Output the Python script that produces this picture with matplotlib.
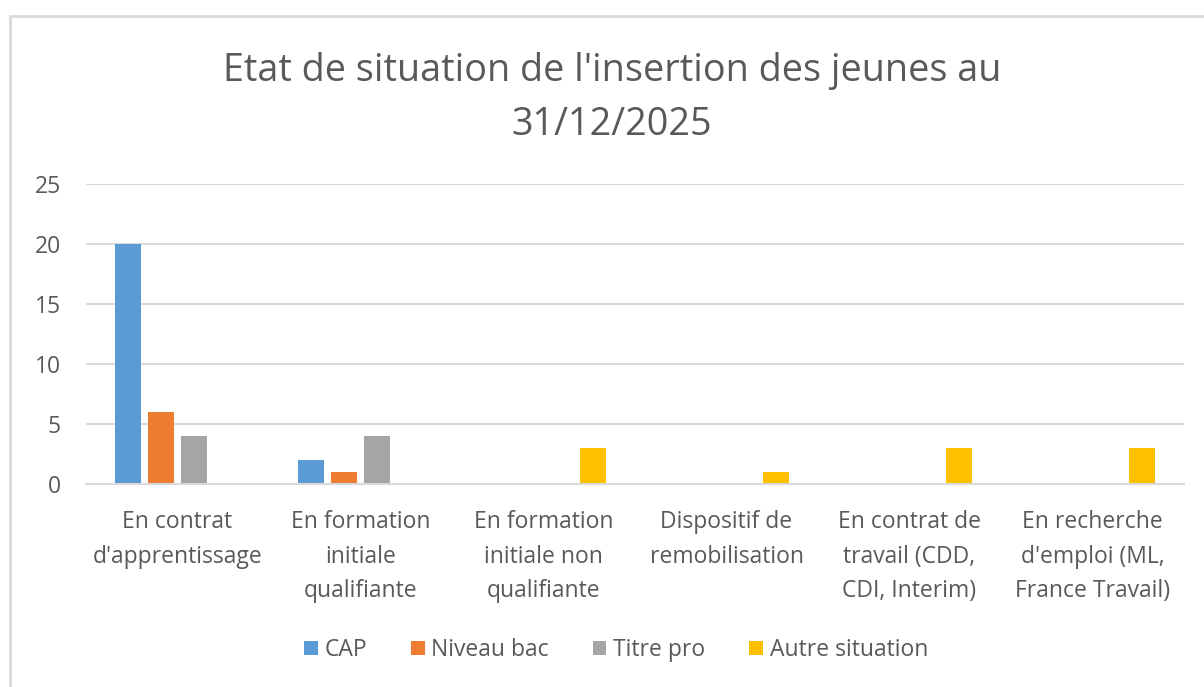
import matplotlib
matplotlib.use("Agg")
import matplotlib.pyplot as plt
import numpy as np
from matplotlib.patches import Rectangle

categories = [
    "En contrat\nd'apprentissage",
    "En formation\ninitiale\nqualifiante",
    "En formation\ninitiale non\nqualifiante",
    "Dispositif de\nremobilisation",
    "En contrat de\ntravail (CDD,\nCDI, Interim)",
    "En recherche\nd'emploi (ML,\nFrance Travail)",
]
series_names = ["CAP", "Niveau bac", "Titre pro", "Autre situation"]
cap = [20, 2, 0, 0, 0, 0]
niveau_bac = [6, 1, 0, 0, 0, 0]
titre_pro = [4, 4, 0, 0, 0, 0]
autre = [0, 0, 3, 1, 3, 3]
colors = ["#5B9BD5", "#ED7D31", "#A5A5A5", "#FFC000"]
yticks = [0, 5, 10, 15, 20, 25]

plt.rcParams['font.family'] = ['Open Sans', 'DejaVu Sans']
W, H = 1204, 687
fig = plt.figure(figsize=(W / 100, H / 100), dpi=100)

# chart border
fig.patches.append(Rectangle((10 / W, -0.05), 1.2, 1 - 16 / H + 0.05,
                             transform=fig.transFigure, fill=False,
                             edgecolor="#D9D9D9", linewidth=2))

ax = fig.add_axes([86 / W, 1 - 484 / H, (1184 - 86) / W, (484 - 184) / H])
x = np.arange(len(categories))
spacing = 0.18
width = 0.142
data = [cap, niveau_bac, titre_pro, autre]
for i, (vals, name, c) in enumerate(zip(data, series_names, colors)):
    ax.bar(x + (i - 1.5) * spacing, vals, width, color=c, label=name, zorder=3)

ax.set_xlim(-0.5, len(categories) - 0.5)
ax.set_ylim(0, 25)
ax.set_yticks(yticks)
ax.yaxis.grid(True, color="#D9D9D9", linewidth=1.5, zorder=0)
for s in ["top", "right", "left"]:
    ax.spines[s].set_visible(False)
ax.spines["bottom"].set_color("#D9D9D9")
ax.spines["bottom"].set_linewidth(1.5)
ax.spines["bottom"].set_zorder(4)
ax.tick_params(axis="both", length=0, colors="#595959", labelsize=16.5)
ax.tick_params(axis="y", pad=18)
ax.set_xticks(x)
ax.set_xticklabels(categories, fontsize=16.5, color="#595959", linespacing=1.58)
ax.tick_params(axis="x", pad=19)
for lbl in ax.get_yticklabels():
    lbl.set_horizontalalignment("right")

fig.text(612 / W, 1 - 98 / H, "Etat de situation de l'insertion des jeunes au\n31/12/2025",
         ha="center", va="center", fontsize=27.2, color="#595959", linespacing=1.55)

leg = fig.legend(loc="center", bbox_to_anchor=(616 / W, 1 - 650 / H), ncol=4,
                 frameon=False, fontsize=16.5, handlelength=0.6, handleheight=0.6,
                 handletextpad=0.3, columnspacing=1.9)
for t in leg.get_texts():
    t.set_color("#595959")

fig.savefig("out.png", dpi=100)
